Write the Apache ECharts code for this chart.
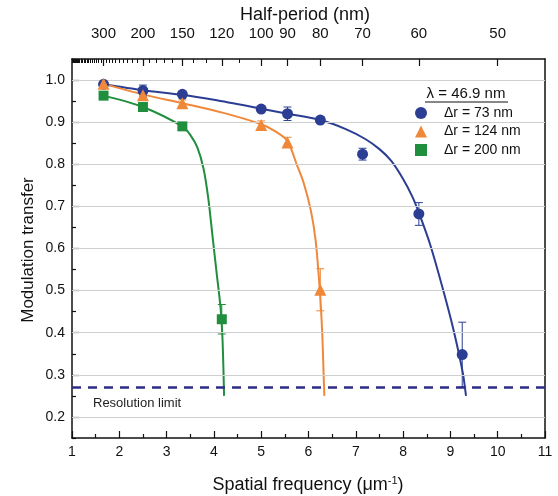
<!DOCTYPE html>
<html>
<head>
<meta charset="utf-8">
<script src="https://cdn.jsdelivr.net/npm/echarts@6/dist/echarts.min.js"></script>
<style>
html,body{margin:0;padding:0;background:#fff;}
#chart{width:558px;height:496px;}
</style>
</head>
<body>
<div id="chart"></div>
<script>
// ---- data ----
const bottomTicks = [1,2,3,4,5,6,7,8,9,10,11];
const halfPeriodMajor = [300,200,150,120,100,90,80,70,60,50];
const halfPeriodMinor = [500,490,480,470,460,450,440,430,420,410,400,390,380,370,360,350,340,330,320,310,
                         290,280,270,260,250,240,230,220,210,190,180,170,160,140,130,110];
const yMajor = [0.2,0.3,0.4,0.5,0.6,0.7,0.8,0.9,1.0];
const yMinor = [0.15,0.25,0.35,0.45,0.55,0.65,0.75,0.85,0.95,1.05];

const names = ['Δr = 73 nm','Δr = 124 nm','Δr = 200 nm'];
const colors = ['#2c3e93','#f0883a','#1f8f3e'];

const blueX   = [1.667, 2.5, 3.333, 5.0, 5.556, 6.25, 7.143, 8.333, 9.25];
const blueY   = [0.990, 0.975, 0.966, 0.931, 0.920, 0.905, 0.824, 0.682, 0.348];
const blueErr = [0.005, 0.013, 0.004, 0.005, 0.016, 0.005, 0.014, 0.027, 0.077];

const orangeX   = [1.667, 2.5, 3.333, 5.0, 5.556, 6.25];
const orangeY   = [0.991, 0.964, 0.945, 0.893, 0.852, 0.502];
const orangeErr = [0.008, 0.010, 0.008, 0.010, 0.012, 0.050];

const greenX   = [1.667, 2.5, 3.333, 4.167];
const greenY   = [0.963, 0.936, 0.890, 0.432];
const greenErr = [0.004, 0.004, 0.004, 0.035];

// fitted curves
const blueCurveX = [1.667, 2.5, 3.333, 4.0, 5.0, 5.556, 6.25, 6.8, 7.2, 7.5, 7.75, 8.0, 8.2, 8.333, 8.57, 8.85, 9.08, 9.27, 9.33];
const blueCurveY = [0.990, 0.976, 0.965, 0.953, 0.932, 0.920, 0.905, 0.883, 0.860, 0.836, 0.808, 0.765, 0.722, 0.685, 0.610, 0.500, 0.400, 0.300, 0.250];
const orangeCurveX = [1.667, 2.5, 3.333, 4.2, 5.0, 5.3, 5.556, 5.75, 5.9, 6.05, 6.15, 6.24, 6.29, 6.32, 6.335];
const orangeCurveY = [0.991, 0.966, 0.945, 0.922, 0.895, 0.878, 0.855, 0.800, 0.755, 0.690, 0.620, 0.500, 0.400, 0.300, 0.250];
const greenCurveX = [1.667, 2.5, 3.333, 3.5, 3.65, 3.78, 3.88, 3.97, 4.06, 4.14, 4.18, 4.2, 4.215];
const greenCurveY = [0.963, 0.936, 0.890, 0.870, 0.840, 0.790, 0.720, 0.630, 0.540, 0.460, 0.390, 0.320, 0.250];

const resolutionLimit = 0.266;

// ---- chart ----
const zip = (a,b) => a.map((v,i)=>[v,b[i]]);
const zip3 = (a,b,c) => a.map((v,i)=>[v,b[i],c[i]]);
const FONT = 'Liberation Sans, Arial, sans-serif';

function errRender(color){
  return function(params, api){
    const x = api.value(0), y = api.value(1), e = api.value(2);
    const t = api.coord([x, y+e]), b = api.coord([x, y-e]);
    const w = 4;
    const st = {stroke: color, lineWidth: 1};
    return {type:'group', children:[
      {type:'line', shape:{x1:t[0],y1:t[1],x2:b[0],y2:b[1]}, style:st},
      {type:'line', shape:{x1:t[0]-w,y1:t[1],x2:t[0]+w,y2:t[1]}, style:st},
      {type:'line', shape:{x1:b[0]-w,y1:b[1],x2:b[0]+w,y2:b[1]}, style:st}
    ]};
  };
}

const pts = [zip(blueX,blueY), zip(orangeX,orangeY), zip(greenX,greenY)];
const errs = [zip3(blueX,blueY,blueErr), zip3(orangeX,orangeY,orangeErr), zip3(greenX,greenY,greenErr)];
const curves = [zip(blueCurveX,blueCurveY), zip(orangeCurveX,orangeCurveY), zip(greenCurveX,greenCurveY)];
const symbols = ['circle','triangle','rect'];
const symSizes = [11, 12, 10];

const series = [];
series.push({
  type:'line', data:[], silent:true, z:1,
  markLine:{silent:true, symbol:'none', label:{show:false},
    lineStyle:{color:'#cfcfcf', width:1, type:'solid'},
    data: yMajor.map(v=>({yAxis:v}))}
});
series.push({
  type:'line', data:[], silent:true, z:2,
  markLine:{silent:true, symbol:'none', label:{show:false},
    lineStyle:{color:'#2b2d86', width:2.5, type:[9,7]},
    data:[{yAxis: resolutionLimit}]}
});
for(let i=0;i<3;i++){
  series.push({type:'line', name:'curve'+i, data:curves[i], smooth:0.3,
    showSymbol:false, symbol:'none', lineStyle:{color:colors[i], width:2}, z:3});
  series.push({type:'custom', name:'err'+i, data:errs[i], renderItem:errRender(colors[i]), z:4});
  series.push({type:'scatter', name:names[i], data:pts[i], symbol:symbols[i], symbolSize:symSizes[i],
    itemStyle:{color:colors[i], opacity:1}, z:5});
}

const option = {
  animation:false,
  backgroundColor:'#fff',
  textStyle:{fontFamily:FONT},
  grid:{left:72, right:13, top:59, bottom:58},
  xAxis:[
    {type:'value', position:'bottom', min:1, max:11, interval:1,
     axisLine:{lineStyle:{color:'#111', width:1.5}},
     axisTick:{inside:true, length:7, lineStyle:{color:'#111', width:1.2}},
     minorTick:{show:true, splitNumber:2, length:4, lineStyle:{color:'#111', width:1.2}},
     axisLabel:{fontSize:14, color:'#111', margin:7, fontFamily:FONT,
       customValues: bottomTicks},
     splitLine:{show:false}},
    {type:'value', position:'top', min:1, max:11,
     axisLine:{lineStyle:{color:'#111', width:1.5}},
     axisTick:{inside:true, length:7, lineStyle:{color:'#111', width:1.2},
       customValues: halfPeriodMajor.map(h=>500/h)},
     axisLabel:{fontSize:15, color:'#111', margin:18, fontFamily:FONT,
       customValues: halfPeriodMajor.map(h=>500/h),
       formatter: v => String(Math.round(500/v))},
     splitLine:{show:false}},
    {type:'value', position:'top', min:1, max:11,
     axisLine:{show:false},
     axisTick:{inside:true, length:4, lineStyle:{color:'#111', width:1},
       customValues: halfPeriodMinor.map(h=>500/h)},
     axisLabel:{show:false},
     splitLine:{show:false}}
  ],
  yAxis:[
    {type:'value', position:'left', min:0.15, max:1.05,
     axisLine:{show:true, lineStyle:{color:'#111', width:1.5}},
     axisTick:{show:true, inside:true, length:7, lineStyle:{color:'#111', width:1.2}, customValues: yMajor},
     axisLabel:{fontSize:14, color:'#111', margin:7, fontFamily:FONT, customValues: yMajor,
       formatter: v => v.toFixed(1)},
     splitLine:{show:false}},
    {type:'value', position:'left', min:0.15, max:1.05,
     axisLine:{show:false},
     axisTick:{show:true, inside:true, length:4, lineStyle:{color:'#111', width:1.2}, customValues: yMinor},
     axisLabel:{show:false}, splitLine:{show:false}},
    {type:'value', position:'right', min:0.15, max:1.05,
     axisLine:{show:true, lineStyle:{color:'#111', width:1.5}},
     axisTick:{show:false}, axisLabel:{show:false}, splitLine:{show:false}}
  ],
  legend:{
    orient:'vertical', left:415, top:106, padding:0, itemWidth:12, itemHeight:12, itemGap:4.5,
    textStyle:{fontSize:14, color:'#111', fontFamily:FONT, padding:[0,0,0,12]},
    data: names.map((n,i)=>({name:n, icon:symbols[i]})),
    selectedMode:false
  },
  graphic:[
    {type:'text', x:305, y:15, style:{text:'Half-period (nm)', fontSize:18, fill:'#111', fontFamily:FONT, align:'center', verticalAlign:'middle'}},
    {type:'text', x:28, y:250, rotation:Math.PI/2,
     style:{text:'Modulation transfer', fontSize:17, fill:'#111', fontFamily:FONT, align:'center', verticalAlign:'middle'}},
    {type:'text', x:308, y:485,
     style:{text:'{a|Spatial frequency (μm}{s|-1}{a|)}', align:'center', verticalAlign:'middle', fontFamily:FONT,
       rich:{a:{fontSize:18, fill:'#111', fontFamily:FONT}, s:{fontSize:11, fill:'#111', fontFamily:FONT, verticalAlign:'top', padding:[0,0,8,0]}}}},
    {type:'text', x:93, y:403,
     style:{text:'Resolution limit', fontSize:13, fill:'#222', fontFamily:FONT, verticalAlign:'middle'}},
    {type:'text', x:466, y:94,
     style:{text:'λ = 46.9 nm', fontSize:15, fill:'#111', fontFamily:FONT, align:'center', verticalAlign:'middle'}},
    {type:'line', shape:{x1:425, y1:102, x2:508, y2:102}, style:{stroke:'#111', lineWidth:1.2}}
  ],
  series: series
};

const chart = echarts.init(document.getElementById('chart'), null, {renderer:'canvas'});
chart.setOption(option);
</script>
</body>
</html>
